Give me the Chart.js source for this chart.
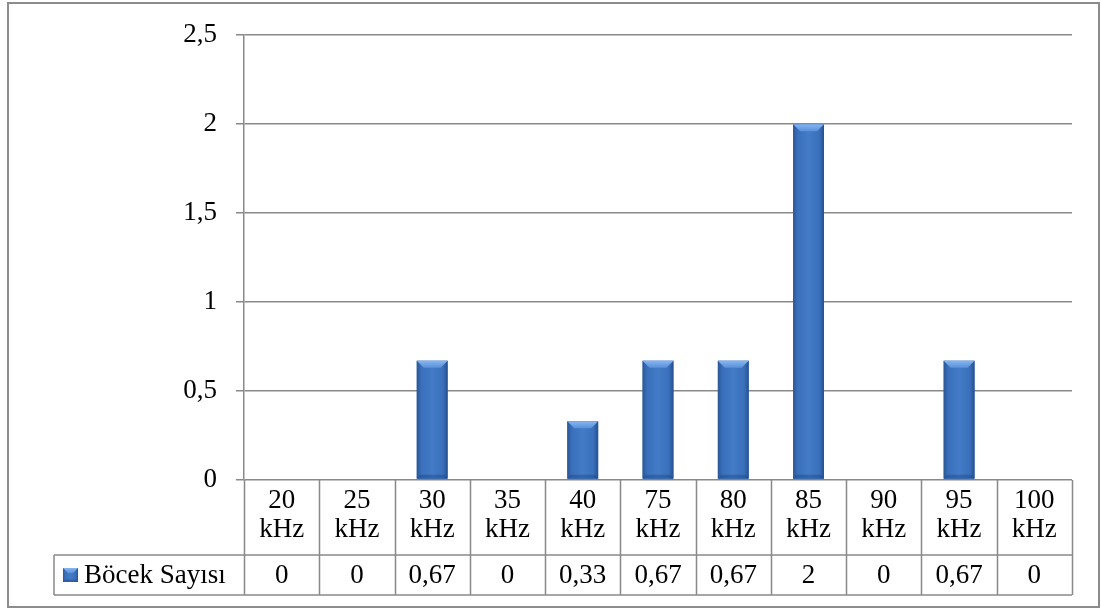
<!DOCTYPE html>
<html lang="tr">
<head>
<meta charset="utf-8">
<title>Böcek Sayısı</title>
<script src="https://cdn.jsdelivr.net/npm/chart.js@4/dist/chart.umd.min.js"></script>
<style>
  html, body { margin: 0; padding: 0; background: #ffffff; }
  #wrap { position: relative; width: 1101px; height: 611px; }
</style>
</head>
<body>
<div id="wrap"><canvas id="chart"></canvas></div>
<script>
// Frequencies tested and insect counts per frequency
const categories = ['20 kHz', '25 kHz', '30 kHz', '35 kHz', '40 kHz', '75 kHz', '80 kHz', '85 kHz', '90 kHz', '95 kHz', '100 kHz'];
const seriesName = 'Böcek Sayısı';
const values = [0, 0, 0.67, 0, 0.33, 0.67, 0.67, 2, 0, 0.67, 0];
const yTicks = [0, 0.5, 1, 1.5, 2, 2.5];

const FONT = "'Liberation Serif', 'Times New Roman', serif";
const FONT_SIZE = 27;
const LINE = '#898989';

function trNumber(v) {
  return String(v).replace('.', ',');
}

// Bevelled column look: horizontal shading plus a light top facet
function paintBevel(ctx, L, R, T, B) {
  const w = R - L;
  const h = B - T;
  if (h <= 0.5) return;
  const g = ctx.createLinearGradient(L, 0, R, 0);
  g.addColorStop(0, '#2a5796');
  g.addColorStop(0.15, '#3a70bb');
  g.addColorStop(0.5, '#437bc6');
  g.addColorStop(0.85, '#3a70bb');
  g.addColorStop(1, '#24508e');
  ctx.fillStyle = g;
  ctx.fillRect(L, T, w, h);

  const b = Math.min(7, h / 2, w / 3);
  // top facet
  const gt = ctx.createLinearGradient(0, T, 0, T + b);
  gt.addColorStop(0, '#86b6f0');
  gt.addColorStop(1, '#5a90da');
  ctx.fillStyle = gt;
  ctx.beginPath();
  ctx.moveTo(L, T);
  ctx.lineTo(R, T);
  ctx.lineTo(R - b, T + b);
  ctx.lineTo(L + b, T + b);
  ctx.closePath();
  ctx.fill();
  // bottom facet, slightly shaded
  ctx.fillStyle = 'rgba(25,60,110,0.35)';
  ctx.beginPath();
  ctx.moveTo(L, B);
  ctx.lineTo(R, B);
  ctx.lineTo(R - b * 0.5, B - b * 0.5);
  ctx.lineTo(L + b * 0.5, B - b * 0.5);
  ctx.closePath();
  ctx.fill();
}

const bevelPlugin = {
  id: 'bevel',
  afterDatasetsDraw(chart) {
    const ctx = chart.ctx;
    const meta = chart.getDatasetMeta(0);
    ctx.save();
    meta.data.forEach((bar) => {
      const p = bar.getProps(['x', 'y', 'base', 'width'], true);
      const L = p.x - p.width / 2;
      const R = p.x + p.width / 2;
      paintBevel(ctx, L, R, Math.min(p.y, p.base), Math.max(p.y, p.base) - 1);
    });
    ctx.restore();
  }
};

// Data table under the plot plus the outer frame
const tablePlugin = {
  id: 'dataTable',
  afterDraw(chart) {
    const ctx = chart.ctx;
    const area = chart.chartArea;
    const xs = chart.scales.x;
    const n = categories.length;
    const colW = area.width / n;
    const top = area.bottom;
    const headBottom = top + 75;
    const rowBottom = top + 115;
    const legendLeft = 54;

    ctx.save();
    ctx.strokeStyle = LINE;
    ctx.lineWidth = 1.5;

    ctx.beginPath();
    // column separators
    for (let i = 0; i <= n; i++) {
      const x = Math.round(area.left + i * colW) + 0.5;
      ctx.moveTo(x, top);
      ctx.lineTo(x, rowBottom);
    }
    // row lines
    ctx.moveTo(legendLeft, headBottom);
    ctx.lineTo(area.right, headBottom);
    ctx.moveTo(legendLeft, rowBottom);
    ctx.lineTo(area.right, rowBottom);
    // legend cell left edge
    ctx.moveTo(legendLeft, headBottom);
    ctx.lineTo(legendLeft, rowBottom);
    ctx.stroke();

    // outer frame
    ctx.lineWidth = 2;
    ctx.strokeStyle = '#8c8c8c';
    ctx.strokeRect(8, 3, 1091, 604);

    ctx.fillStyle = '#000000';
    ctx.font = FONT_SIZE + 'px ' + FONT;
    ctx.textAlign = 'center';
    ctx.textBaseline = 'middle';
    categories.forEach((c, i) => {
      const cx = xs.getPixelForValue(i);
      const parts = c.split(' ');
      ctx.fillText(parts[0], cx, top + 21);
      ctx.fillText(parts[1], cx, top + 50);
      ctx.fillText(trNumber(values[i]), cx, top + 96);
    });

    // legend key and series name
    const ky = top + 88;
    paintBevel(ctx, 63, 78, ky, ky + 14);
    ctx.textAlign = 'left';
    ctx.fillStyle = '#000000';
    ctx.fillText(seriesName, 84, top + 96);
    ctx.restore();
  }
};

new Chart(document.getElementById('chart'), {
  type: 'bar',
  data: {
    labels: categories,
    datasets: [{
      label: seriesName,
      data: values,
      backgroundColor: '#3a6fb8',
      borderWidth: 0,
      categoryPercentage: 1,
      barPercentage: 0.41
    }]
  },
  options: {
    responsive: true,
    maintainAspectRatio: false,
    animation: false,
    devicePixelRatio: 1,
    layout: { padding: { left: 0, right: 29, top: 31, bottom: 131 } },
    plugins: {
      legend: { display: false },
      tooltip: { enabled: false },
      title: { display: false }
    },
    scales: {
      x: { display: false },
      y: {
        min: 0,
        max: 2.5,
        afterFit(scale) { scale.width = 244; },
        afterBuildTicks(scale) { scale.ticks = yTicks.map(v => ({ value: v })); },
        ticks: {
          color: '#000000',
          padding: 19,
          font: { family: FONT, size: FONT_SIZE },
          callback: (v) => trNumber(v)
        },
        grid: { color: LINE, lineWidth: 1.5, tickLength: 8, drawTicks: true },
        border: { display: true, color: LINE, width: 1.5 }
      }
    }
  },
  plugins: [bevelPlugin, tablePlugin]
});
</script>
</body>
</html>
